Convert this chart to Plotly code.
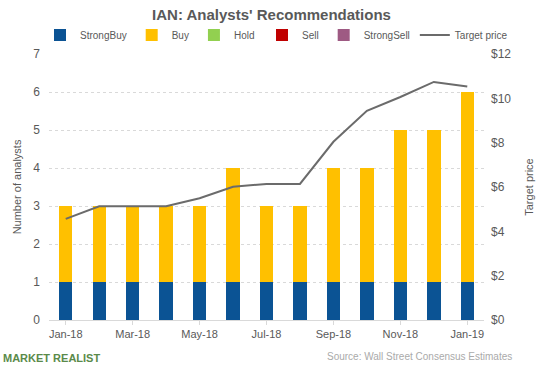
import plotly.graph_objects as go

months = ["Jan-18", "Feb-18", "Mar-18", "Apr-18", "May-18", "Jun-18", "Jul-18",
          "Aug-18", "Sep-18", "Oct-18", "Nov-18", "Dec-18", "Jan-19"]
strong_buy = [1, 1, 1, 1, 1, 1, 1, 1, 1, 1, 1, 1, 1]
buy = [2, 2, 2, 2, 2, 3, 2, 2, 3, 3, 4, 4, 5]
hold = [0] * 13
sell = [0] * 13
strong_sell = [0] * 13
target_price = [4.56, 5.13, 5.13, 5.13, 5.49, 6.01, 6.14, 6.14, 8.04, 9.44, 10.06, 10.74, 10.53]
tick_labels = ["Jan-18", "Mar-18", "May-18", "Jul-18", "Sep-18", "Nov-18", "Jan-19"]

font = "Arial, Liberation Sans, sans-serif"
gray = "#595959"

fig = go.Figure()
for name, vals, col, lg in [("StrongBuy", strong_buy, "#0B5394", "legend"),
                            ("Buy", buy, "#FFC000", "legend"),
                            ("Hold", hold, "#92D050", "legend"),
                            ("Sell", sell, "#C00000", "legend2"),
                            ("StrongSell", strong_sell, "#9E5A83", "legend2")]:
    fig.add_trace(go.Bar(x=months, y=vals, name=name, marker_color=col,
                         marker_line_width=0, legend=lg))
fig.add_trace(go.Scatter(x=months, y=target_price, name="Target price", yaxis="y2",
                         mode="lines", line=dict(color="#6b6b6b", width=2),
                         legend="legend2"))

leg_common = dict(orientation="h", xref="container", yref="container",
                  y=1 - 35 / 370, yanchor="middle", xanchor="left",
                  font=dict(size=10, color=gray), itemwidth=30, tracegroupgap=0,
                  traceorder="normal", bgcolor="rgba(0,0,0,0)")

fig.update_layout(
    width=543, height=370,
    barmode="stack", bargap=0.6,
    paper_bgcolor="white", plot_bgcolor="white",
    margin=dict(l=49, r=59, t=54, b=50, autoexpand=False),
    font=dict(family=font, color=gray, size=11),
    title=dict(text="<b>IAN: Analysts' Recommendations</b>", x=0.5, xanchor="center",
               xref="container", yref="container",
               y=1 - 15 / 370, yanchor="middle", font=dict(size=15, color=gray)),
    legend=dict(x=40 / 543, **leg_common),
    legend2=dict(x=262 / 543, **leg_common),
    xaxis=dict(type="category", tickvals=tick_labels, ticktext=tick_labels,
               showgrid=False, showline=True, linecolor="#d9d9d9",
               ticks="outside", tickcolor="#d9d9d9", ticklen=4,
               tickfont=dict(size=11, color=gray)),
    yaxis=dict(range=[0, 7], dtick=1, showgrid=True, gridcolor="#d9d9d9",
               griddash="dot", zeroline=False, ticklabelstandoff=8,
               title=dict(text="Number of analysts", font=dict(size=11, color=gray), standoff=9),
               tickfont=dict(size=12, color=gray)),
    yaxis2=dict(range=[0, 12], dtick=2, overlaying="y", side="right", showgrid=False,
                tickprefix="$", zeroline=False, ticklabelstandoff=6,
                title=dict(text="Target price", font=dict(size=11, color=gray), standoff=14),
                tickfont=dict(size=12, color=gray)),
    annotations=[
        dict(text="<b>MARKET REALIST</b>", x=0, y=0, xref="paper", yref="paper",
             xanchor="left", yanchor="middle", showarrow=False,
             font=dict(size=11, color="#5a8a4a", family=font),
             xshift=-48, yshift=-38),
        dict(text="Source: Wall Street Consensus Estimates", x=1, y=0, xref="paper",
             yref="paper", xanchor="right", yanchor="middle", showarrow=False,
             font=dict(size=10, color="#aaaaaa", family=font),
             xshift=30, yshift=-36),
    ],
)
fig.write_html("out.html", config={"displayModeBar": False},
               post_script="document.body.style.margin='0';document.body.style.overflow='hidden';")
